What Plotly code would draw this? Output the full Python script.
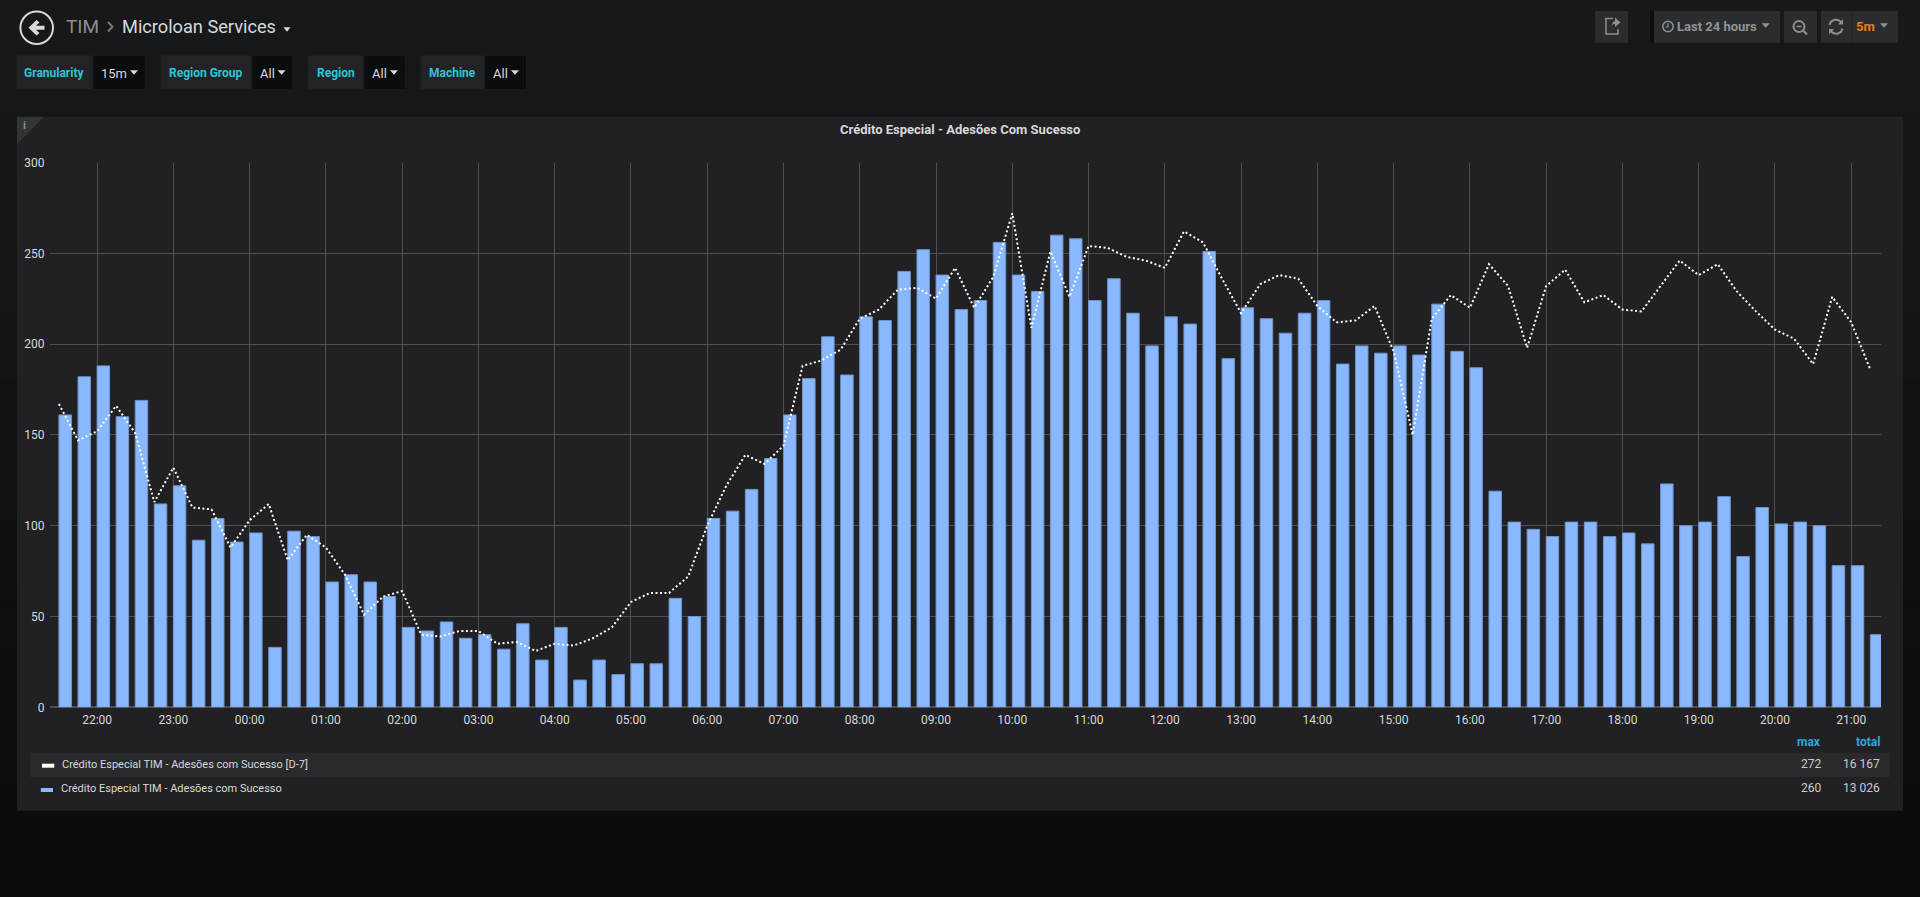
"""Grafana dashboard panel: Crédito Especial adhesions, today vs D-7."""

from __future__ import annotations

import pandas as pd
import plotly.graph_objects as go

W, H = 1920, 897
PANEL, GRID, INK, INK2 = "#212124", "#4f4f51", "#d8d9da", "#8e8e8e"
BLUE, BLUE_EDGE, TEAL, SKY, ORANGE = "#8ab8ff", "#6f94cc", "#2cc6d8", "#33a5d6", "#eb7b18"
BTN = "#2b2c2f"
FONT = "Roboto, sans-serif"

TIMES = pd.date_range("2018-06-11 21:30", periods=96, freq="15min")
SUCCESS = [
    161, 182, 188, 160, 169, 112, 122, 92, 104, 91, 96, 33, 97, 94, 69, 73,
    69, 61, 44, 42, 47, 38, 40, 32, 46, 26, 44, 15, 26, 18, 24, 24,
    60, 50, 104, 108, 120, 137, 161, 181, 204, 183, 215, 213, 240, 252, 238, 219,
    224, 256, 238, 229, 260, 258, 224, 236, 217, 199, 215, 211, 251, 192, 220, 214,
    206, 217, 224, 189, 199, 195, 199, 194, 222, 196, 187, 119, 102, 98, 94, 102,
    102, 94, 96, 90, 123, 100, 102, 116, 83, 110, 101, 102, 100, 78, 78, 40,
]
SUCCESS_D7 = [
    167, 147, 152, 166, 151, 113, 132, 110, 109, 88, 103, 112, 81, 95, 88, 73,
    51, 61, 64, 40, 39, 42, 42, 35, 36, 31, 35, 34, 38, 44, 58, 63,
    63, 72, 100, 122, 139, 134, 144, 188, 191, 197, 214, 219, 230, 231, 225, 242,
    220, 237, 272, 209, 251, 226, 254, 253, 248, 246, 242, 262, 256, 236, 217, 233,
    238, 236, 221, 212, 213, 221, 196, 150, 214, 227, 220, 244, 232, 198, 232, 241,
    223, 227, 219, 218, 232, 246, 238, 244, 229, 218, 208, 203, 189, 226, 212, 186,
]
TITLE = "Crédito Especial - Adesões Com Sucesso"
NAME_D7 = "Crédito Especial TIM - Adesões com Sucesso [D-7]"
NAME = "Crédito Especial TIM - Adesões com Sucesso"
LEGEND_MAX = ["272", "260"]
LEGEND_TOTAL = ["16 167", "13 026"]
VARIABLES = [
    ("Granularity", "15m", 16.3, 93, 145.7, 54.3, 113.5, 134),
    ("Region Group", "All", 160.8, 251.8, 292.7, 206, 267, 281.6),
    ("Region", "All", 308, 363.7, 405.7, 336, 379, 394),
    ("Machine", "All", 420.8, 484.5, 526.5, 452, 500, 515),
]


def px(x: float) -> float:
    return x / W


def py(y: float) -> float:
    return 1 - y / H


def rect(x0, y0, x1, y1, color, line=None) -> dict:
    return dict(
        type="rect", xref="paper", yref="paper", layer="below",
        x0=px(x0), x1=px(x1), y0=py(y0), y1=py(y1), fillcolor=color,
        line=dict(width=1 if line else 0, color=line or color),
    )


def poly(points, color, width=0, closed=True, layer="below") -> dict:
    d = "M" + " L".join(f"{px(x):.5f},{py(y):.5f}" for x, y in points) + (" Z" if closed else "")
    return dict(
        type="path", path=d, xref="paper", yref="paper", layer=layer,
        fillcolor=color if closed else "rgba(0,0,0,0)",
        line=dict(color=color, width=width),
    )


def ring(cx, cy, r, color, width) -> dict:
    return dict(
        type="circle", xref="paper", yref="paper", layer="below",
        x0=px(cx - r), x1=px(cx + r), y0=py(cy + r), y1=py(cy - r),
        line=dict(color=color, width=width),
    )


def caret(cx, cy, color, half=4) -> dict:
    return poly([(cx - half, cy - 2.2), (cx + half, cy - 2.2), (cx, cy + 2.2)], color)


def label(text, x, y, color=INK, size=13, anchor="center", bold=False) -> dict:
    return dict(
        text=f"<b>{text}</b>" if bold else text, x=px(x), y=py(y), xref="paper", yref="paper",
        xanchor=anchor, yanchor="middle", showarrow=False,
        font=dict(color=color, size=size, family=FONT),
    )


shapes, notes = [], []

# page background fades downward
BANDS = 40
for i in range(BANDS):
    t = i / (BANDS - 1)
    c = [round(a + (b - a) * t) for a, b in zip((23, 24, 26), (10, 11, 13))]
    shapes.append(rect(0, H * i / BANDS, W, H * (i + 1) / BANDS + 1, f"rgb({c[0]},{c[1]},{c[2]})"))

# header
shapes.append(ring(36.7, 27.7, 16.3, INK, 2))
shapes.append(poly([(28.5, 27.7), (36.5, 20), (39.5, 22.5), (36, 25.7), (44.5, 25.7),
                    (44.5, 29.7), (36, 29.7), (39.5, 33), (36.5, 35.5)], INK))
notes.append(label("TIM", 82.5, 27, INK2, 19))
shapes.append(poly([(108, 22), (112.5, 26.7), (108, 31.5)], "#777777", 2, closed=False))
notes.append(label("Microloan Services", 199, 27, INK, 18.2))
shapes.append(caret(287, 29.5, INK, 3.5))

for name, value, x0, split, x1, cx_name, cx_value, cx_caret in VARIABLES:
    shapes.append(rect(x0, 55.3, split, 89.3, "#212327", "#1b1c1f"))
    shapes.append(rect(split, 55.3, x1, 89.3, "#0b0c0e", "#1b1c1f"))
    shapes.append(caret(cx_caret, 72.5, INK))
    notes.append(label(name, cx_name, 73, TEAL, 12, bold=True))
    notes.append(label(value, cx_value, 73, INK, 13))

# toolbar
shapes.append(rect(1595, 11, 1628, 42.7, BTN))
shapes.append(poly([(1613, 18.5), (1606, 18.5), (1606, 34), (1618, 34), (1618, 29)], "#8e8e8e", 1.5, closed=False))
shapes.append(poly([(1611, 27), (1613, 22), (1615, 21), (1615, 17.5), (1620.5, 22.5),
                    (1615, 27), (1615, 24), (1612.5, 24.5)], "#8e8e8e"))
shapes.append(rect(1650, 11, 1654, 42.7, "#0b0c0e"))
shapes.append(rect(1654, 11, 1780, 42.7, BTN))
shapes.append(ring(1668, 26.5, 5.2, "#8e8e8e", 1.5))
shapes.append(poly([(1668, 23), (1668, 27), (1665.5, 27)], "#8e8e8e", 1.2, closed=False))
notes.append(label("Last 24 hours", 1717, 26.7, "#939393", 13, bold=True))
shapes.append(caret(1765.7, 25.5, "#939393"))
shapes.append(rect(1784, 11, 1817, 42.7, BTN))
shapes.append(ring(1799, 26.5, 5.5, "#8e8e8e", 2))
shapes.append(poly([(1803, 30.5), (1807, 34.5)], "#8e8e8e", 2.2, closed=False))
shapes.append(poly([(1796.5, 26.5), (1801.5, 26.5)], "#8e8e8e", 1.5, closed=False))
shapes.append(rect(1821, 11, 1898, 42.7, BTN))
shapes.append(poly([(1851.7, 11), (1851.7, 42.7)], "#232426", 1, closed=False))
# refresh icon, two arcs with arrow heads
shapes.append(poly([(1829.5, 25), (1831, 21.5), (1835, 19.5), (1839, 20.5), (1841, 22)], "#8e8e8e", 2, closed=False))
shapes.append(poly([(1843, 19), (1843, 24.5), (1838, 24.5)], "#8e8e8e"))
shapes.append(poly([(1842.5, 28.5), (1841, 32), (1837, 34), (1833, 33), (1831, 31)], "#8e8e8e", 2, closed=False))
shapes.append(poly([(1829, 34.5), (1829, 29), (1834, 29)], "#8e8e8e"))
notes.append(label("5m", 1865.7, 26.7, ORANGE, 13, bold=True))
shapes.append(caret(1884, 25.5, "#939393"))

# panel
shapes.append(rect(17, 116.7, 1903, 810.7, PANEL))
shapes.append(poly([(17, 116.7), (44, 116.7), (17, 144)], "#333436"))
notes.append(label("i", 24.5, 125, "#8e8e8e", 11, bold=True))
notes.append(label(TITLE, 959.5, 130, INK, 13, bold=True))

# legend table
shapes.append(rect(29.8, 752.7, 1890, 777, "#2a2a2c"))
shapes.append(rect(42, 763.7, 54.3, 767.7, "#ffffff"))
shapes.append(rect(40.8, 788, 53, 792, BLUE))
notes.append(label(NAME_D7, 59.8, 764.3, INK, 11, "left"))
notes.append(label(NAME, 58.6, 788.3, INK, 11, "left"))
notes.append(label("max", 1823, 742.3, SKY, 12, "right", bold=True))
notes.append(label("total", 1882, 742.3, SKY, 12, "right", bold=True))
for row_y, top, total in zip((764.3, 788.3), LEGEND_MAX, LEGEND_TOTAL):
    notes.append(label(top, 1823, row_y, "#c9cacb", 12, "right"))
    notes.append(label(total, 1882, row_y, "#c9cacb", 12, "right"))

fig = go.Figure()
fig.add_trace(
    go.Bar(
        x=TIMES,
        y=SUCCESS,
        name=NAME,
        width=590000,
        offset=0,
        marker=dict(color=BLUE, line=dict(color=BLUE_EDGE, width=1)),
    )
)
fig.add_trace(
    go.Scatter(
        x=TIMES,
        y=SUCCESS_D7,
        name=NAME_D7,
        mode="lines",
        line=dict(color="#ffffff", width=2, dash="2px,2.5px"),
    )
)
fig.update_layout(
    width=W,
    height=H,
    margin=dict(l=0, r=0, t=0, b=0),
    paper_bgcolor="#0b0c0e",
    plot_bgcolor="rgba(0,0,0,0)",
    font=dict(color=INK, family=FONT, size=12),
    showlegend=False,
    shapes=shapes,
    annotations=notes,
)
fig.update_xaxes(
    automargin=False,
    type="date",
    domain=[px(49.8), px(1881)],
    range=["2018-06-11 21:22:48", "2018-06-12 21:23:24"],
    tick0="2018-06-11 22:00",
    dtick=3600000,
    tickformat="%H:%M",
    gridcolor=GRID,
    showline=False,
    ticks="outside",
    ticklen=1,
    tickcolor="rgba(0,0,0,0)",
    tickfont=dict(color=INK, size=12),
)
fig.update_yaxes(
    automargin=False,
    domain=[py(707.3), py(162.5)],
    range=[0, 300],
    dtick=50,
    gridcolor=GRID,
    zerolinecolor=GRID,
    ticks="outside",
    ticklen=2,
    tickcolor="rgba(0,0,0,0)",
    tickfont=dict(color=INK, size=12),
)

fig.write_html(
    "out.html",
    config={"displayModeBar": False},
    post_script="document.body.style.margin='0';document.documentElement.style.overflow='hidden';",
)
